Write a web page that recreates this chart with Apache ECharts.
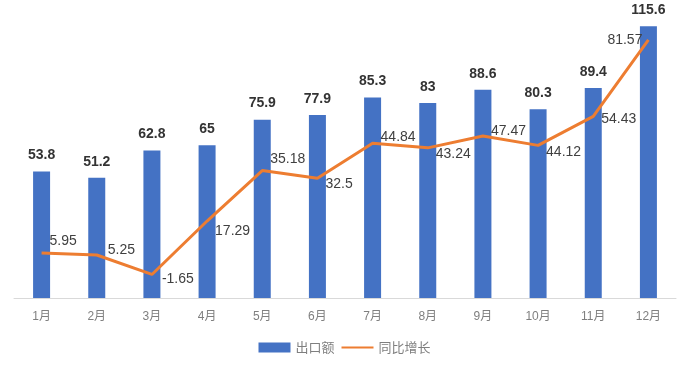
<!DOCTYPE html>
<html><head><meta charset="utf-8">
<script src="https://cdn.jsdelivr.net/npm/echarts@6/dist/echarts.min.js"></script>
<style>html,body{margin:0;padding:0;background:#fff}#c{width:689px;height:365px}</style>
</head><body><div id="c"></div>
<script>
var categories = ['1月','2月','3月','4月','5月','6月','7月','8月','9月','10月','11月','12月'];
var exportValues = [53.8, 51.2, 62.8, 65, 75.9, 77.9, 85.3, 83, 88.6, 80.3, 89.4, 115.6];
var growthValues = [5.95, 5.25, -1.65, 17.29, 35.18, 32.5, 44.84, 43.24, 47.47, 44.12, 54.43, 81.57];
var seriesNames = ['出口额', '同比增长'];

// label placement styles for the line labels (not data)
var lineLabelOffsets = [[0,-12],[3,-5],[2,5],[0,10],[0,-11],[0,6],[0,-6],[0,6],[0,-5],[0,7],[0,3],[0,0]];
var lineLabelPos = ['right','right','right','right','right','right','right','right','right','right','right','left'];

var font = "'Liberation Sans','Noto Sans CJK SC',sans-serif";
var lineData = growthValues.map(function(v, i){
  return {value: v, label: {position: lineLabelPos[i], offset: lineLabelOffsets[i], distance: i === 11 ? 6 : 8}};
});

var chart = echarts.init(document.getElementById('c'));
chart.setOption({
  animation: false,
  textStyle: {fontFamily: font},
  grid: {left: 14, right: 13, top: 16, bottom: 67},
  legend: {
    bottom: 6, left: 'center', itemWidth: 32, itemHeight: 10, itemGap: 6,
    textStyle: {color: '#7f7f7f', fontSize: 13, fontFamily: "'Noto Sans CJK SC',sans-serif"},
    data: [{name: seriesNames[0], icon: 'rect'}, {name: seriesNames[1], itemStyle: {opacity: 0}}]
  },
  xAxis: {
    type: 'category', data: categories,
    axisLine: {lineStyle: {color: '#d9d9d9', width: 1}},
    axisTick: {show: false},
    axisLabel: {color: '#7f7f7f', fontSize: 12, margin: 13, fontFamily: font}
  },
  yAxis: [
    {type: 'value', min: 0, max: 120, show: false, splitLine: {show: false}},
    {type: 'value', min: -10, max: 90, show: false, splitLine: {show: false}}
  ],
  series: [
    {
      name: seriesNames[0], type: 'bar', data: exportValues, barWidth: 17,
      itemStyle: {color: '#4472c4'},
      label: {show: true, position: 'top', distance: 9, color: '#333333', fontSize: 14, fontWeight: 'bold', fontFamily: font}
    },
    {
      name: seriesNames[1], type: 'line', yAxisIndex: 1, data: lineData,
      symbol: 'circle', symbolSize: 0.01, showSymbol: true,
      lineStyle: {color: '#ed7d31', width: 3}, itemStyle: {color: '#ed7d31'},
      label: {show: true, color: '#404040', fontSize: 14, fontFamily: font}
    }
  ]
});
</script></body></html>
